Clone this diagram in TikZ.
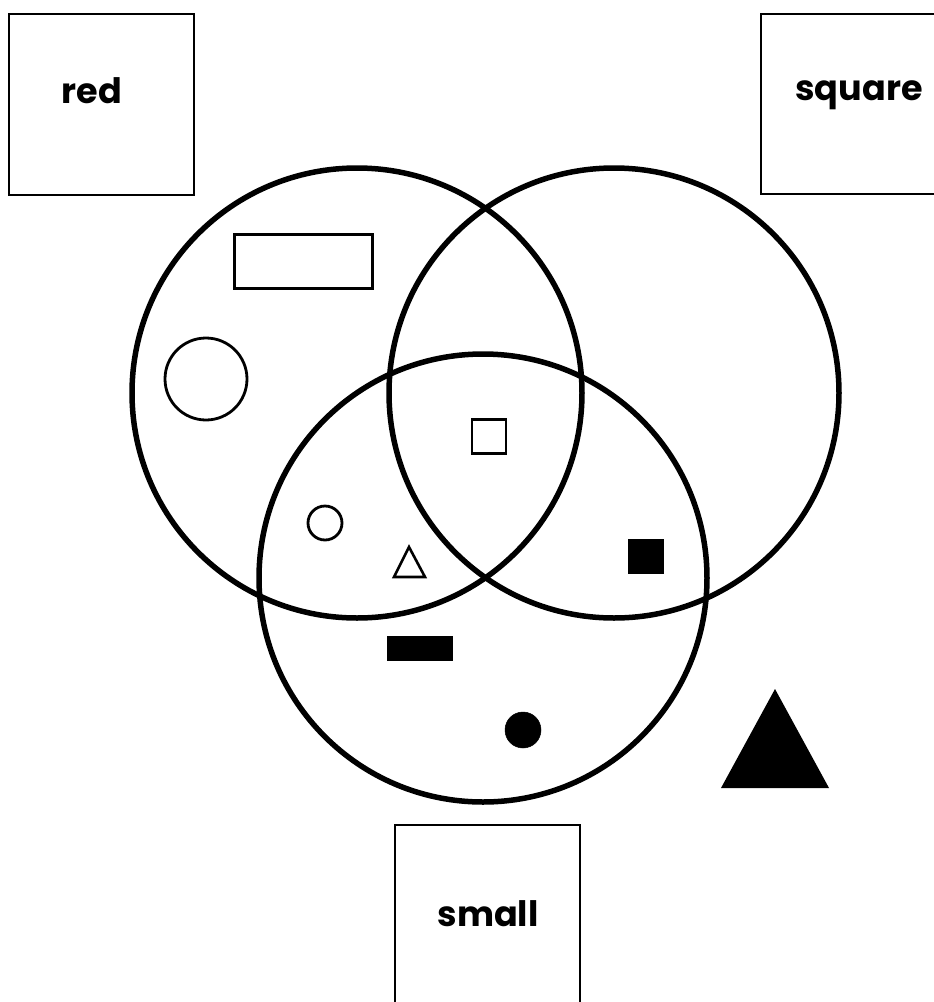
\documentclass[tikz,border=0pt]{standalone}
\usepackage{fontspec}
\setmainfont{Poppins}
\begin{document}
\begin{tikzpicture}[x=1pt,y=-1pt,
  labelbox/.style={draw,line width=2.2pt,rectangle,inner sep=0pt,anchor=north west},
  labeltext/.style={font=\fontsize{35}{35}\selectfont\bfseries,inner sep=0pt,anchor=base},
  venn/.style={draw,circle,line width=5.5pt,inner sep=0pt,minimum size=450pt},
  hollow/.style={draw,line width=2.8pt,inner sep=0pt},
  solid/.style={fill=black,draw=black,line width=0.5pt,inner sep=0pt}]
\useasboundingbox (0,0) rectangle (934,1002);
% label boxes
\node[labelbox,minimum width=185pt,minimum height=181pt] (redbox) at (8,13) {};
\node[labeltext] (redtxt) at (92,103) {red};
\node[labelbox,minimum width=190pt,minimum height=180pt] (squarebox) at (760,13) {};
\node[labeltext] (squaretxt) at (859,100) {square};
\node[labelbox,minimum width=185pt,minimum height=200pt] (smallbox) at (394,824) {};
\node[labeltext] (smalltxt) at (488,926) {small};
% Venn circles
\node[venn] (red) at (357,393) {};
\node[venn] (square) at (614,393) {};
\node[venn,minimum size=448pt] (small) at (483,578) {};
% hollow shapes
\node[hollow,rectangle,minimum width=138pt,minimum height=54pt] (bigrect) at (303.5,261.5) {};
\node[hollow,circle,minimum size=82pt] (bigcirc) at (206,379) {};
\node[hollow,rectangle,minimum size=34pt] (hsq) at (489,436.5) {};
\node[hollow,circle,minimum size=34pt] (hcirc) at (325,523) {};
\draw[line width=2.6pt,line join=miter] (409,547) -- (394,577) -- (425,577) -- cycle;
\coordinate (htri) at (409,565);
% solid shapes
\node[solid,rectangle,minimum width=35pt,minimum height=34pt] (ssq) at (645.5,556) {};
\node[solid,rectangle,minimum width=65pt,minimum height=24pt] (srect) at (419.5,648) {};
\node[solid,circle,minimum size=36pt] (scirc) at (523,730) {};
\fill (775,689) -- (829,788) -- (721,788) -- cycle;
\coordinate (stri) at (775,755);
\end{tikzpicture}
\end{document}
